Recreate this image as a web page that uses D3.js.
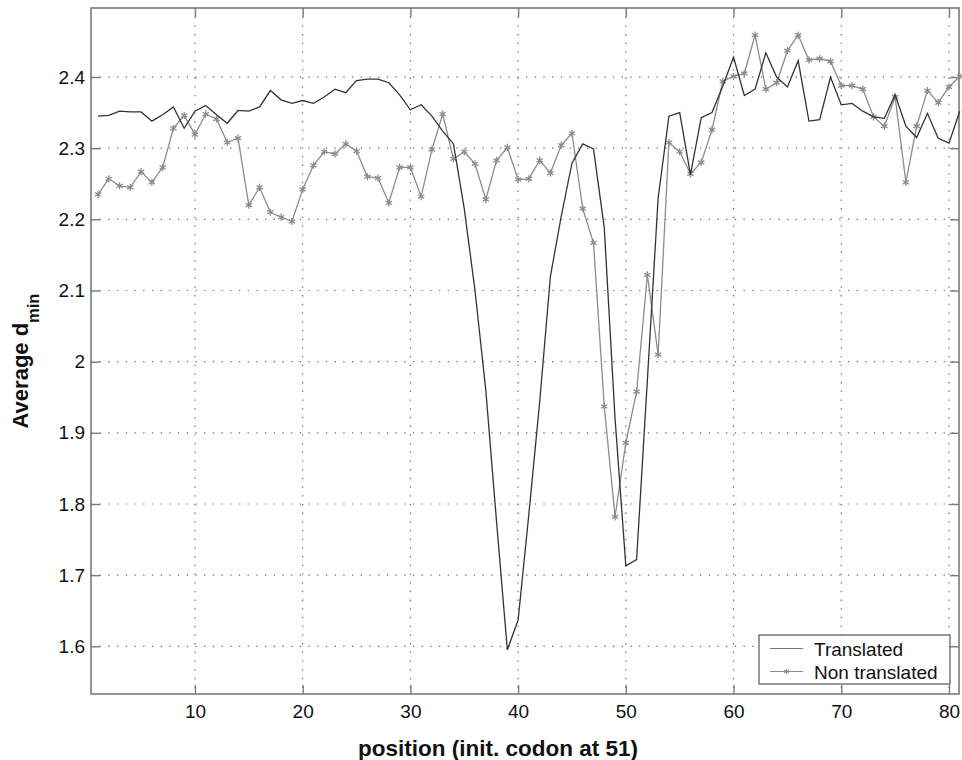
<!DOCTYPE html>
<html>
<head>
<meta charset="utf-8">
<script src="https://cdn.jsdelivr.net/npm/d3@7"></script>
<style>
  html, body { margin: 0; padding: 0; background: #fff; }
  svg { display: block; font-family: "Liberation Sans", Arial, Helvetica, sans-serif; }
</style>
</head>
<body>
<svg id="chart" width="962" height="760"></svg>
<script>
// ---- data ----
const positions = d3.range(1, 82);
const translated = [
  2.345, 2.346, 2.352, 2.351, 2.351, 2.338, 2.347, 2.358, 2.328, 2.352,
  2.360, 2.347, 2.335, 2.353, 2.352, 2.358, 2.381, 2.368, 2.363, 2.367,
  2.363, 2.372, 2.383, 2.378, 2.395, 2.397, 2.397, 2.392, 2.375, 2.354,
  2.361, 2.345, 2.324, 2.306, 2.215, 2.100, 1.960, 1.775, 1.595, 1.637,
  1.786, 1.943, 2.120, 2.204, 2.279, 2.306, 2.299, 2.188, 1.920, 1.713,
  1.722, 1.974, 2.230, 2.345, 2.350, 2.263, 2.343, 2.350, 2.387, 2.428,
  2.374, 2.383, 2.434, 2.400, 2.386, 2.423, 2.338, 2.340, 2.400, 2.361,
  2.363, 2.352, 2.344, 2.342, 2.375, 2.331, 2.315, 2.349, 2.314, 2.307, 2.352
];
const nonTranslated = [
  2.235, 2.257, 2.247, 2.245, 2.267, 2.252, 2.273, 2.328, 2.346, 2.319,
  2.348, 2.341, 2.308, 2.314, 2.220, 2.245, 2.210, 2.203, 2.197, 2.242,
  2.276, 2.295, 2.292, 2.306, 2.296, 2.260, 2.258, 2.223, 2.273, 2.273,
  2.232, 2.298, 2.348, 2.285, 2.295, 2.278, 2.228, 2.283, 2.301, 2.256,
  2.257, 2.283, 2.265, 2.304, 2.321, 2.215, 2.167, 1.937, 1.782, 1.886,
  1.958, 2.122, 2.010, 2.308, 2.295, 2.264, 2.280, 2.326, 2.394, 2.401,
  2.405, 2.459, 2.383, 2.392, 2.437, 2.459, 2.424, 2.426, 2.422, 2.388,
  2.388, 2.383, 2.344, 2.331, 2.372, 2.252, 2.331, 2.381, 2.364, 2.386, 2.401
];
const xTicks = [10, 20, 30, 40, 50, 60, 70, 80];
const yTicks = [1.6, 1.7, 1.8, 1.9, 2.0, 2.1, 2.2, 2.3, 2.4];
const yTickLabels = ["1.6", "1.7", "1.8", "1.9", "2", "2.1", "2.2", "2.3", "2.4"];
const seriesNames = ["Translated", "Non translated"];

// ---- layout ----
const L = 91, R = 959, T = 8, B = 694;
const svg = d3.select("#chart");
const x = d3.scaleLinear().domain([0.35, 80.93]).range([L, R]);
const y = d3.scaleLinear().domain([1.533, 2.497]).range([B, T]);

const boxColor = "#7a7a7a";
const gridColor = "#6a6a6a";

// grid
const grid = svg.append("g");
grid.selectAll("line.gx").data(xTicks).join("line")
  .attr("x1", d => x(d)).attr("x2", d => x(d)).attr("y1", T).attr("y2", B)
  .attr("stroke", gridColor).attr("stroke-width", 1.2).attr("stroke-dasharray", "1.3,7.4");
grid.selectAll("line.gy").data(yTicks).join("line")
  .attr("x1", L).attr("x2", R).attr("y1", d => y(d)).attr("y2", d => y(d))
  .attr("stroke", gridColor).attr("stroke-width", 1.2).attr("stroke-dasharray", "1.3,7.4");

// axes (ticks inward)
const axB = d3.axisBottom(x).tickValues(xTicks).tickSize(-9).tickPadding(11).tickFormat(d3.format("d"));
const axT = d3.axisTop(x).tickValues(xTicks).tickSize(-9).tickFormat("");
const axL = d3.axisLeft(y).tickValues(yTicks).tickSize(-9).tickPadding(6).tickFormat((d, i) => yTickLabels[i]);
const axR = d3.axisRight(y).tickValues(yTicks).tickSize(-9).tickFormat("");

function style(g) {
  g.select(".domain").remove();
  g.selectAll(".tick line").attr("stroke", boxColor).attr("stroke-width", 1.4);
  g.selectAll(".tick text").attr("fill", "#111").style("font-size", "19px");
}
svg.append("g").attr("transform", `translate(0,${B})`).call(axB).call(style);
svg.append("g").attr("transform", `translate(0,${T})`).call(axT).call(style);
svg.append("g").attr("transform", `translate(${L},0)`).call(axL).call(style);
svg.append("g").attr("transform", `translate(${R},0)`).call(axR).call(style);

svg.append("rect").attr("x", L).attr("y", T).attr("width", R - L).attr("height", B - T)
  .attr("fill", "none").attr("stroke", boxColor).attr("stroke-width", 1.6);

// lines
const line = d3.line().x((d, i) => x(positions[i])).y(d => y(d));
const ntColor = "#8c8c8c";
const trColor = "#333333";

svg.append("path").datum(nonTranslated).attr("d", line)
  .attr("fill", "none").attr("stroke", ntColor).attr("stroke-width", 1.3);
const star = d3.symbol().type(d3.symbolAsterisk).size(36);
svg.append("g").selectAll("path").data(nonTranslated).join("path")
  .attr("transform", (d, i) => `translate(${x(positions[i])},${y(d)})`)
  .attr("d", star).attr("fill", "none").attr("stroke", ntColor).attr("stroke-width", 1.3);

svg.append("path").datum(translated).attr("d", line)
  .attr("fill", "none").attr("stroke", trColor).attr("stroke-width", 1.3);

// legend
const lg = svg.append("g");
lg.append("rect").attr("x", 759).attr("y", 635).attr("width", 191).attr("height", 49)
  .attr("fill", "#fff").attr("stroke", "#555").attr("stroke-width", 1.2);
const rows = [{ name: seriesNames[0], color: trColor, y: 648.5, mark: false },
              { name: seriesNames[1], color: ntColor, y: 671.5, mark: true }];
rows.forEach(r => {
  lg.append("line").attr("x1", 770).attr("x2", 803).attr("y1", r.y).attr("y2", r.y)
    .attr("stroke", r.mark ? ntColor : "#777").attr("stroke-width", 1.2);
  if (r.mark) lg.append("path").attr("transform", `translate(786.5,${r.y})`)
    .attr("d", d3.symbol().type(d3.symbolAsterisk).size(22)).attr("stroke", ntColor).attr("fill", "none");
  lg.append("text").attr("x", 814).attr("y", r.y + 7).attr("fill", "#111")
    .style("font-size", "19px").text(r.name);
});

// axis labels
svg.append("text").attr("x", 638).attr("y", 756).attr("text-anchor", "end")
  .style("font-size", "22.5px").style("font-weight", "bold").attr("fill", "#111")
  .text("position (init. codon at 51)");

const yl = svg.append("text").attr("transform", "translate(28,361) rotate(-90)")
  .attr("text-anchor", "middle").style("font-weight", "bold").attr("fill", "#111");
yl.append("tspan").style("font-size", "22px").text("Average d");
yl.append("tspan").style("font-size", "16.5px").attr("dy", 11).text("min");
</script>
</body>
</html>
